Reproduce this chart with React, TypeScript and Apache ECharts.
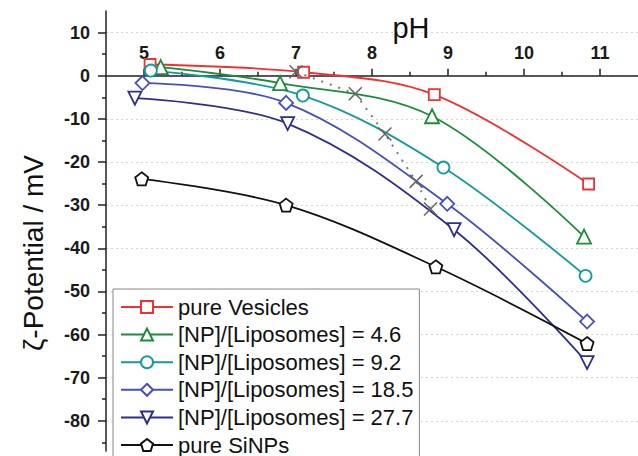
import React, { useEffect, useRef } from "react";
import * as echarts from "echarts";

// ---- data ----
const phVesicles = [5.08, 7.1, 8.82, 10.85];
const zetaVesicles = [2.6, 0.8, -4.4, -25.1];

const phNP46 = [5.22, 6.79, 8.79, 10.79];
const zetaNP46 = [2.0, -1.7, -9.4, -37.3];

const phNP92 = [5.09, 7.09, 8.94, 10.81];
const zetaNP92 = [1.2, -4.6, -21.3, -46.4];

const phNP185 = [4.98, 6.87, 8.99, 10.83];
const zetaNP185 = [-1.7, -6.3, -29.7, -57.0];

const phNP277 = [4.88, 6.89, 9.08, 10.83];
const zetaNP277 = [-5.2, -11.1, -35.7, -66.5];

const phSiNPs = [4.97, 6.87, 8.84, 10.83];
const zetaSiNPs = [-23.9, -30.0, -44.3, -62.1];

const phCross = [7.0, 7.78, 8.17, 8.58, 8.77];
const zetaCross = [0.9, -4.2, -13.5, -24.5, -30.9];

const seriesNames = [
  "pure Vesicles",
  "[NP]/[Liposomes] = 4.6",
  "[NP]/[Liposomes] = 9.2",
  "[NP]/[Liposomes] = 18.5",
  "[NP]/[Liposomes] = 27.7",
  "pure SiNPs",
];

const xMajorTicks = [5, 6, 7, 8, 9, 10, 11];
const xMinorTicks = [5.5, 6.5, 7.5, 8.5, 9.5, 10.5];
const yMajorTicks = [10, 0, -10, -20, -30, -40, -50, -60, -70, -80];
const yMinorTicks = [5, -5, -15, -25, -35, -45, -55, -65, -75, -85];

const FONT = "Liberation Sans, Arial, sans-serif";

const X_MIN = 4.5;
const X_MAX = 11.5;
const Y_MIN = -87;
const Y_MAX = 15;
const GRID_TOP = 11;
const GRID_BOTTOM = 5;
const CHART_H = 456;

const pairs = (xs: number[], ys: number[]) => xs.map((x, i) => [x, ys[i]]);

export default function App() {
  const ref = useRef<HTMLDivElement>(null);

  useEffect(() => {
    if (!ref.current) return;
    const chart = echarts.init(ref.current, null, { renderer: "svg" });

    const gridH = CHART_H - GRID_TOP - GRID_BOTTOM;
    // distance from grid top to the zero line (x axis sits on zero)
    const zeroOffset = (Y_MAX / (Y_MAX - Y_MIN)) * gridH;

    const mk = (
      name: string,
      xs: number[],
      ys: number[],
      color: string,
      symbol: string,
      size: number
    ) => ({
      name,
      type: "line",
      smooth: 0.35,
      data: pairs(xs, ys),
      symbol,
      symbolSize: size,
      color,
      lineStyle: { color, width: 1.8 },
      itemStyle: { color: "#fff", borderColor: color, borderWidth: 1.8 },
      xAxisIndex: 0,
      yAxisIndex: 0,
      z: 3,
    });

    const option: any = {
      animation: false,
      backgroundColor: "#fff",
      grid: {
        left: 106,
        right: 0,
        top: GRID_TOP,
        bottom: GRID_BOTTOM,
        containLabel: false,
        outerBoundsMode: "none",
      },
      xAxis: [
        {
          type: "value",
          min: X_MIN,
          max: X_MAX,
          position: "top",
          offset: -zeroOffset,
          axisLine: { show: true, onZero: false, lineStyle: { color: "#222", width: 1.5 } },
          axisTick: { show: true, length: 7, customValues: xMajorTicks, lineStyle: { color: "#222", width: 1.5 } },
          axisLabel: {
            show: true,
            customValues: xMajorTicks,
            margin: 14,
            fontSize: 18,
            fontWeight: "bold",
            fontFamily: FONT,
            color: "#1a1a1a",
          },
          splitLine: { show: false },
        },
        {
          type: "value",
          min: X_MIN,
          max: X_MAX,
          position: "top",
          offset: -zeroOffset,
          axisLine: { show: false, onZero: false },
          axisTick: { show: true, length: 4, customValues: xMinorTicks, lineStyle: { color: "#222", width: 1.5 } },
          axisLabel: { show: false },
          splitLine: { show: false },
        },
      ],
      yAxis: [
        {
          type: "value",
          min: Y_MIN,
          max: Y_MAX,
          position: "left",
          axisLine: { show: true, onZero: false, lineStyle: { color: "#222", width: 1.5 } },
          axisTick: { show: true, length: 8, customValues: yMajorTicks, lineStyle: { color: "#222", width: 1.5 } },
          axisLabel: {
            show: true,
            customValues: yMajorTicks,
            margin: 16,
            fontSize: 18,
            fontWeight: "bold",
            fontFamily: FONT,
            color: "#1a1a1a",
          },
          splitLine: { show: true, lineStyle: { color: "#d4d4d4", type: [2, 3], width: 1.2 } },
        },
        {
          type: "value",
          min: Y_MIN,
          max: Y_MAX,
          position: "left",
          axisLine: { show: false, onZero: false },
          axisTick: { show: true, length: 4, customValues: yMinorTicks, lineStyle: { color: "#222", width: 1.5 } },
          axisLabel: { show: false },
          splitLine: { show: false },
        },
      ],
      legend: {
        data: seriesNames,
        orient: "vertical",
        left: 113,
        top: 289,
        height: 400,
        itemWidth: 52,
        itemHeight: 15,
        itemGap: 5.6,
        padding: [7, 6, 7, 7],
        backgroundColor: "#fff",
        borderColor: "#888",
        borderWidth: 1,
        borderRadius: 0,
        textStyle: { fontSize: 22, fontFamily: FONT, color: "#111" },
        z: 10,
      },
      graphic: [
        {
          type: "text",
          x: 411,
          y: 28,
          style: {
            text: "pH",
            fontSize: 29,
            fontFamily: FONT,
            fill: "#111",
            align: "center",
            verticalAlign: "middle",
          },
          z: 20,
        },
        {
          type: "text",
          x: 33,
          y: 253,
          rotation: Math.PI / 2,
          style: {
            text: "ζ-Potential / mV",
            fontSize: 28,
            fontFamily: FONT,
            fill: "#111",
            align: "center",
            verticalAlign: "middle",
          },
          z: 20,
        },
      ],
      series: [
        mk(seriesNames[0], phVesicles, zetaVesicles, "#ee3333", "rect", 11),
        mk(seriesNames[1], phNP46, zetaNP46, "#1c8c3c", "triangle", 14),
        mk(seriesNames[2], phNP92, zetaNP92, "#149a9a", "circle", 12),
        mk(seriesNames[3], phNP185, zetaNP185, "#4650b8", "diamond", 14),
        mk(seriesNames[4], phNP277, zetaNP277, "#2e2e8e", "path://M0,0L10,0L5,9Z", 13),
        mk(seriesNames[5], phSiNPs, zetaSiNPs, "#111111", "path://M5,0L10,3.63L8.09,9.51L1.91,9.51L0,3.63Z", 13),
        {
          name: "crossings",
          type: "line",
          data: pairs(phCross, zetaCross),
          symbol: "path://M0,0L10,10M10,0L0,10",
          symbolSize: 13,
          lineStyle: { color: "#777", width: 2, type: [2, 7] },
          itemStyle: { color: "none", borderColor: "#666", borderWidth: 1.5 },
          xAxisIndex: 0,
          yAxisIndex: 0,
          z: 4,
        },
      ],
    };

    chart.setOption(option);
    return () => chart.dispose();
  }, []);

  return (
    <div
      ref={ref}
      style={{ position: "fixed", left: 0, top: 0, width: 638, height: 456 }}
    />
  );
}
